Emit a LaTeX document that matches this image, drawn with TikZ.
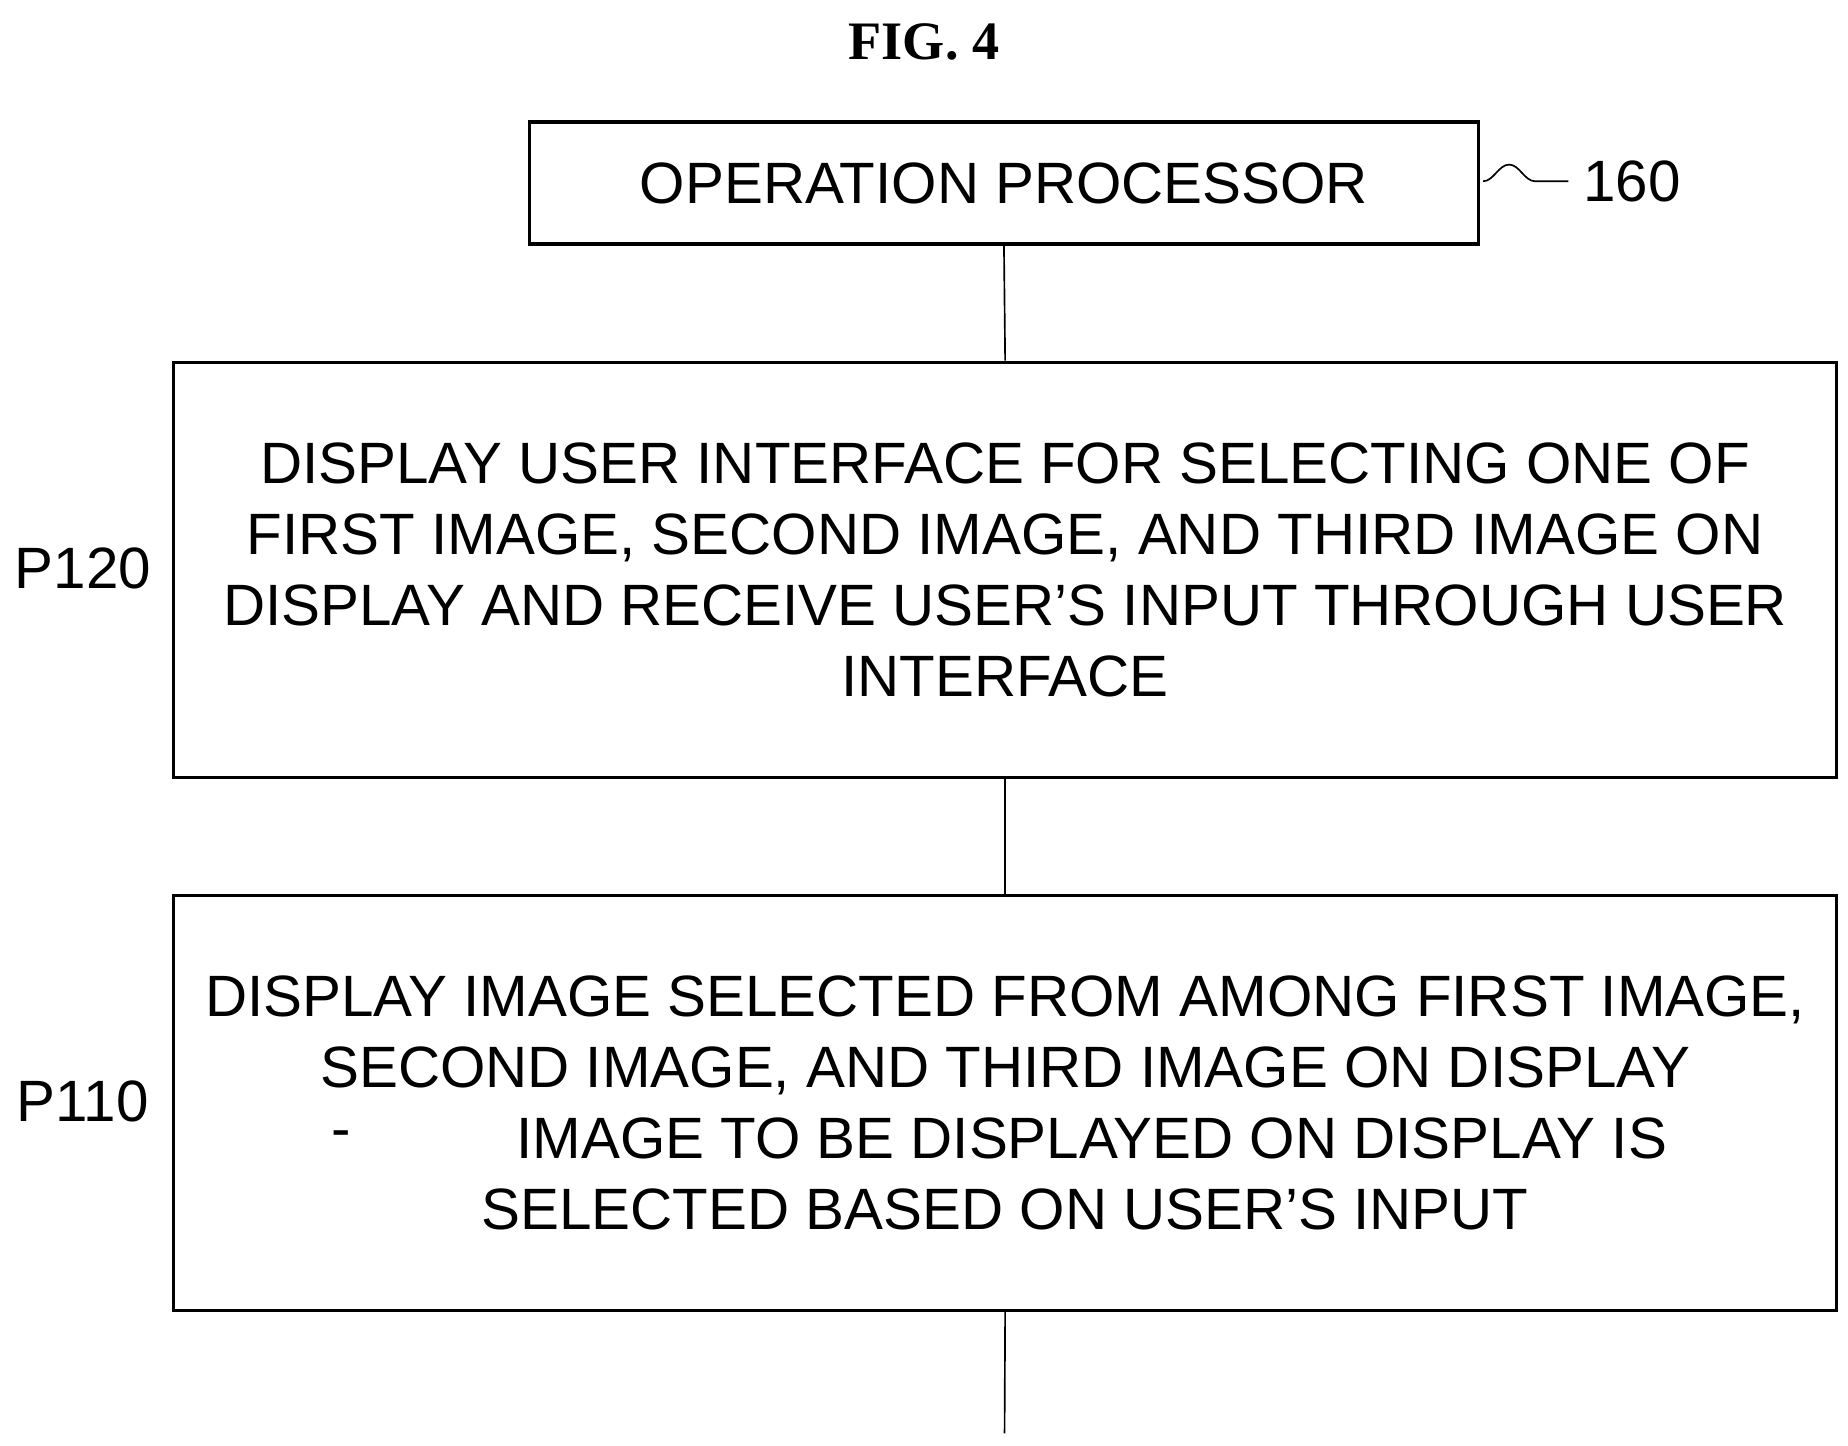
\documentclass[tikz,border=0pt]{standalone}
\usepackage{fontspec}
\setmainfont{Liberation Sans}
\newfontfamily\figfont{Liberation Serif}
\usetikzlibrary{positioning,decorations.pathmorphing}

\begin{document}
\begin{tikzpicture}[x=0.01cm, y=-0.01cm,
	box/.style={draw, line width=0.8pt, inner sep=0pt},
	txt/.style={font=\fontsize{14}{17}\selectfont, align=center},
	lab/.style={font=\fontsize{14}{17}\selectfont}]
	\useasboundingbox (0, 0) rectangle (1560, 1220);

	\node[font=\figfont\bfseries\fontsize{13}{15}\selectfont] (fig) at (780, 35) {FIG. 4};

	\node[box, minimum width=8.01cm, minimum height=1.03cm] (proc) at (847.5, 154.5) {};
	\node[txt] (proctxt) at (proc.center) {OPERATION PROCESSOR};
	\coordinate (sq) at (1252, 153);
	\draw[decorate, decoration={snake, amplitude=4pt, segment length=0.7cm}] (sq) -- ++(72, 0) coordinate (sqe);
	\node[lab, anchor=west] (n160) at (sqe) {160};

	\node[box, minimum width=14.03cm, minimum height=3.5cm] (ui) at (848.5, 481) {};
	\node[txt] (uitxt) at (ui.center) {DISPLAY USER INTERFACE FOR SELECTING ONE OF\\FIRST IMAGE, SECOND IMAGE, AND THIRD IMAGE ON\\DISPLAY AND RECEIVE USER'S INPUT THROUGH USER\\INTERFACE};
	\node[lab] (p120) at (70, 480) {P120};

	\node[box, minimum width=14.03cm, minimum height=3.5cm] (disp) at (848.5, 931) {};
	\node[txt] (disptxt) at (disp.center) {DISPLAY IMAGE SELECTED FROM AMONG FIRST IMAGE,\\SECOND IMAGE, AND THIRD IMAGE ON DISPLAY\\\hspace*{1.46cm}IMAGE TO BE DISPLAYED ON DISPLAY IS\\SELECTED BASED ON USER'S INPUT};
	\node[txt] (tick) at (288, 962) {-};
	\node[lab] (p110) at (70, 930) {P110};

	\coordinate (end) at (848, 1210);

	\draw (proc.south) -- (ui.north);
	\draw (ui.south) -- (disp.north);
	\draw (disp.south) -- (end);
\end{tikzpicture}
\end{document}
